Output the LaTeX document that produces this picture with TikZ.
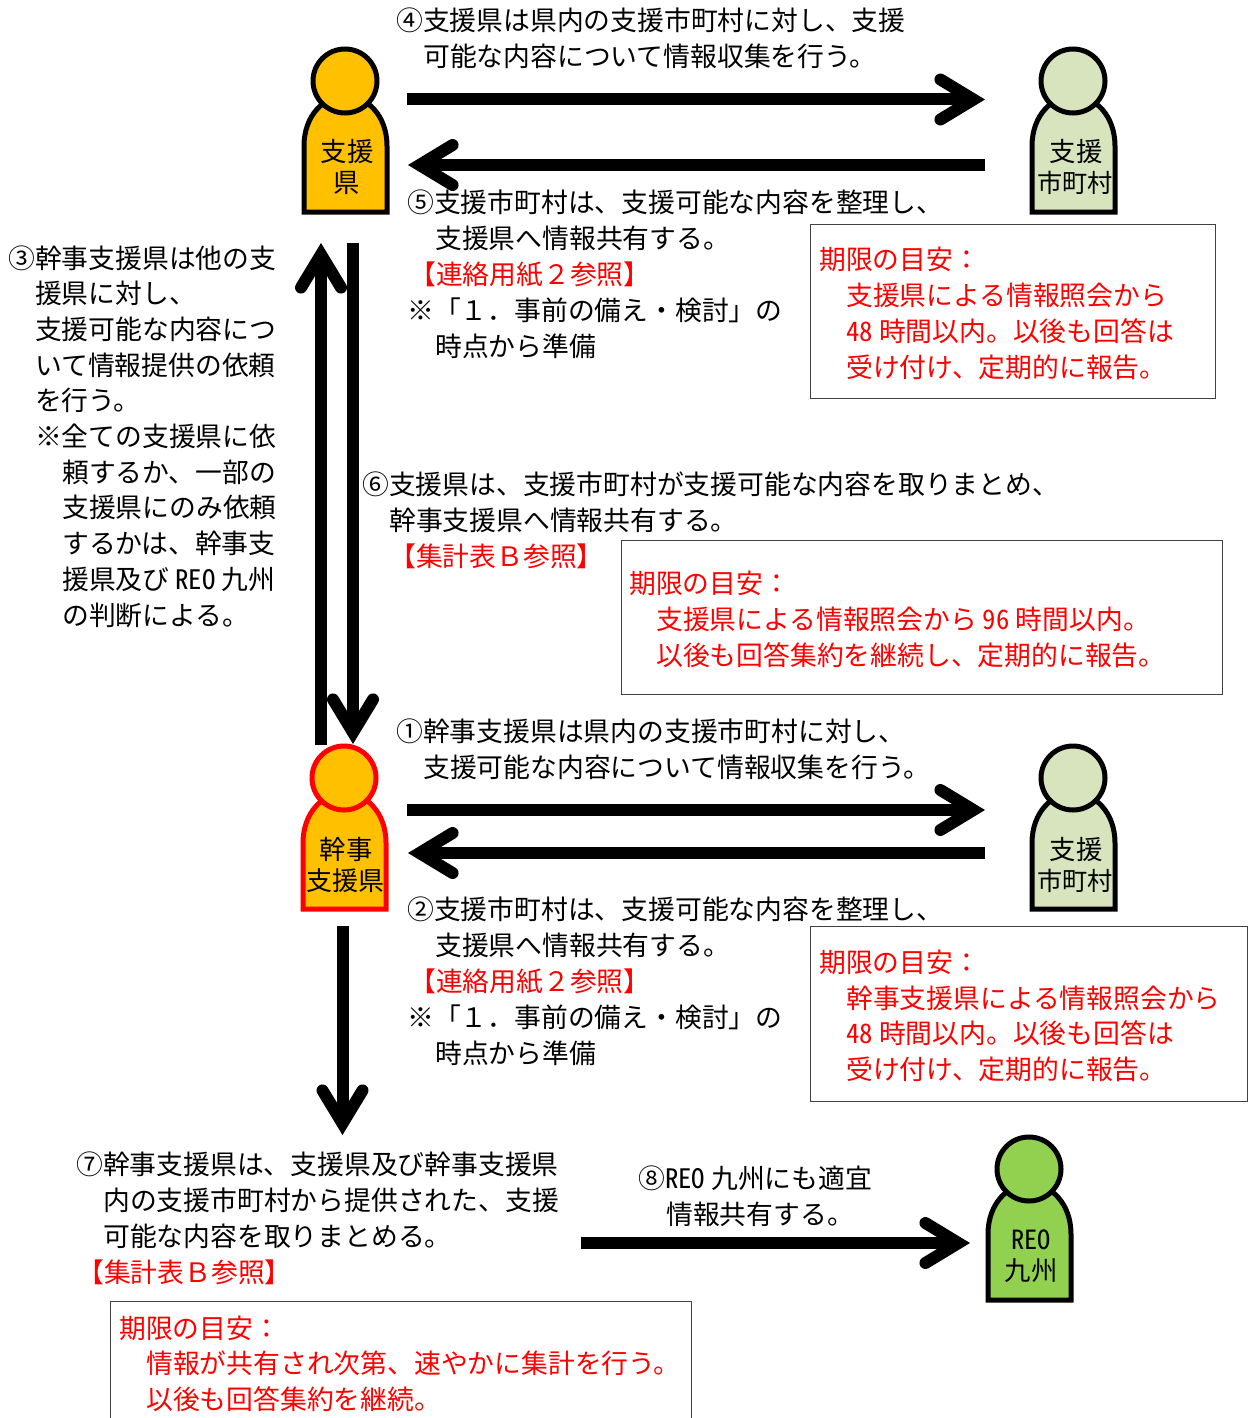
\documentclass[tikz,border=0pt]{standalone}
\usepackage{fontspec}
\setmainfont{Noto Sans CJK JP}
\newfontfamily\hwfont[RawFeature=+hwid]{Noto Sans CJK JP}
\newcommand{\hw}[1]{{\hwfont #1}}
\usetikzlibrary{arrows.meta}
\definecolor{pgold}{HTML}{FFC000}
\definecolor{ppale}{HTML}{D7E4BD}
\definecolor{pgreen}{HTML}{92D050}
\definecolor{boxline}{HTML}{404040}
\tikzset{
  x=0.5pt,y=-0.5pt,
  tline/.style={anchor=base west,inner sep=0pt,outer sep=0pt,xshift=-0.4pt,font=\fontsize{13.4}{16}\selectfont},
  rline/.style={tline,text=red},
  plabel/.style={anchor=base,inner sep=0pt,outer sep=0pt,yshift=-0.5pt,font=\fontsize{13.2}{16}\selectfont},
  bigarrow/.style={line width=6pt,-{Straight Barb[line cap=round,length=16.5pt,width=20pt]}},
  notebox/.style={draw=boxline,line width=0.5pt,fill=white,xshift=-0.1pt,yshift=-0.1pt},
  head/.style={circle,draw,line width=2.5pt,minimum size=32pt,inner sep=0pt},
}
\newcommand{\tl}[4][tline]{\node[#1] (#2) at #3 {#4};}
\newcommand{\person}[5]{%
  \draw[line width=2.5pt,line join=miter,draw=#5,fill=#4] (#2+0.5-41.5,#3+131) -- (#2+0.5-41.5,#3+65)
    .. controls (#2+0.5-41.5,#3+35) and (#2+0.5-22,#3+15) .. (#2+0.5,#3+15)
    .. controls (#2+0.5+22,#3+15) and (#2+0.5+41.5,#3+35) .. (#2+0.5+41.5,#3+65)
    -- (#2+0.5+41.5,#3+131) -- cycle;
  \node[head,draw=#5,fill=#4] (#1) at (#2,#3) {};
}
\begin{document}
\begin{tikzpicture}
\useasboundingbox (0,0) rectangle (1248,1418);
% note boxes
\node[notebox,minimum width=202.5pt,minimum height=87pt,anchor=north west,inner sep=0pt] (box1) at (810,224) {};
\node[notebox,minimum width=300.5pt,minimum height=77pt,anchor=north west,inner sep=0pt] (box2) at (621,540) {};
\node[notebox,minimum width=218.5pt,minimum height=87.5pt,anchor=north west,inner sep=0pt] (box3) at (810,926) {};
\node[notebox,minimum width=290.5pt,minimum height=70pt,anchor=north west,inner sep=0pt] (box4) at (110,1301) {};
% persons
\person{pa}{345}{81}{pgold}{black}
\person{pb}{1073}{81}{ppale}{black}
\person{pc}{344}{778}{pgold}{red}
\person{pd}{1073}{778}{ppale}{black}
\person{pe}{1029}{1169}{pgreen}{black}
\node[plabel] (la1) at (347,161) {支援};
\node[plabel] (la2) at (347,191) {県};
\node[plabel] (lb1) at (1076,161) {支援};
\node[plabel,font=\fontsize{12.6}{16}\selectfont] (lb2) at (1075,191) {市町村};
\node[plabel] (lc1) at (346,858) {幹事};
\node[plabel,font=\fontsize{13}{16}\selectfont] (lc2) at (345,889) {支援県};
\node[plabel] (ld1) at (1076,858) {支援};
\node[plabel,font=\fontsize{12.6}{16}\selectfont] (ld2) at (1075,889) {市町村};
\node[plabel] (le1) at (1031,1248) {\hw{REO}};
\node[plabel] (le2) at (1031,1279) {九州};
% connector ends
\coordinate (a1s) at (407,99.5);  \coordinate (a1e) at (985,99.5);
\coordinate (a2s) at (985,165); \coordinate (a2e) at (408,165);
\coordinate (a3s) at (321,745); \coordinate (a3e) at (321,243);
\coordinate (a4s) at (353,243); \coordinate (a4e) at (353,744);
\coordinate (a5s) at (407,810); \coordinate (a5e) at (985,810);
\coordinate (a6s) at (985,853); \coordinate (a6e) at (408,853);
\coordinate (a7s) at (342.5,926); \coordinate (a7e) at (342.5,1135);
\coordinate (a8s) at (581,1243); \coordinate (a8e) at (970,1243);
\foreach \s/\e in {a1s/a1e,a2s/a2e,a3s/a3e,a4s/a4e,a5s/a5e,a6s/a6e,a7s/a7e,a8s/a8e}
  \draw[bigarrow] (\s) -- (\e);
% texts
\tl{t4a}{(397,31)}{④支援県は県内の支援市町村に対し、支援}
\tl{t4b}{(424,67)}{可能な内容について情報収集を行う。}
\tl{t5a}{(408,212)}{⑤支援市町村は、支援可能な内容を整理し、}
\tl{t5b}{(436,248)}{支援県へ情報共有する。}
\tl[rline]{t5c}{(410,284)}{【連絡用紙２参照】}
\tl{t5d}{(408,320)}{※「１．事前の備え・検討」の}
\tl{t5e}{(436,356)}{時点から準備}
\tl[rline]{b1a}{(820,269)}{期限の目安：}
\tl[rline]{b1b}{(847,305)}{支援県による情報照会から}
\tl[rline]{b1c}{(847,341)}{\hw{48} 時間以内。以後も回答は}
\tl[rline]{b1d}{(847,377)}{受け付け、定期的に報告。}
\tl{t3a}{(9,268)}{③幹事支援県は他の支}
\tl{t3b}{(36,303)}{援県に対し、}
\tl{t3c}{(36,339)}{支援可能な内容につ}
\tl{t3d}{(36,375)}{いて情報提供の依頼}
\tl{t3e}{(36,410)}{を行う。}
\tl{t3f}{(36,446)}{※全ての支援県に依}
\tl{t3g}{(63,482)}{頼するか、一部の}
\tl{t3h}{(63,517)}{支援県にのみ依頼}
\tl{t3i}{(63,553)}{するかは、幹事支}
\tl{t3j}{(63,589)}{援県及び \hw{REO} 九州}
\tl{t3k}{(63,625)}{の判断による。}
\tl{t6a}{(363,494)}{⑥支援県は、支援市町村が支援可能な内容を取りまとめ、}
\tl{t6b}{(390,530)}{幹事支援県へ情報共有する。}
\tl[rline]{t6c}{(390,566)}{【集計表Ｂ参照】}
\tl[rline]{b2a}{(630,593)}{期限の目安：}
\tl[rline]{b2b}{(657,629)}{支援県による情報照会から \hw{96} 時間以内。}
\tl[rline]{b2c}{(657,665)}{以後も回答集約を継続し、定期的に報告。}
\tl{t1a}{(397,741)}{①幹事支援県は県内の支援市町村に対し、}
\tl{t1b}{(424,777)}{支援可能な内容について情報収集を行う。}
\tl{t2a}{(408,919)}{②支援市町村は、支援可能な内容を整理し、}
\tl{t2b}{(436,955)}{支援県へ情報共有する。}
\tl[rline]{t2c}{(410,991)}{【連絡用紙２参照】}
\tl{t2d}{(408,1027)}{※「１．事前の備え・検討」の}
\tl{t2e}{(436,1063)}{時点から準備}
\tl[rline]{b3a}{(820,972)}{期限の目安：}
\tl[rline]{b3b}{(847,1008)}{幹事支援県による情報照会から}
\tl[rline]{b3c}{(847,1043)}{\hw{48} 時間以内。以後も回答は}
\tl[rline]{b3d}{(847,1079)}{受け付け、定期的に報告。}
\tl{t7a}{(77,1174)}{⑦幹事支援県は、支援県及び幹事支援県}
\tl{t7b}{(104,1210)}{内の支援市町村から提供された、支援}
\tl{t7c}{(104,1246)}{可能な内容を取りまとめる。}
\tl[rline]{t7d}{(78,1282)}{【集計表Ｂ参照】}
\tl{t8a}{(639,1188)}{⑧\hw{REO} 九州にも適宜}
\tl{t8b}{(667,1224)}{情報共有する。}
\tl[rline]{b4a}{(120,1338)}{期限の目安：}
\tl[rline]{b4b}{(147,1373)}{情報が共有され次第、速やかに集計を行う。}
\tl[rline]{b4c}{(147,1409)}{以後も回答集約を継続。}
\end{tikzpicture}
\end{document}
